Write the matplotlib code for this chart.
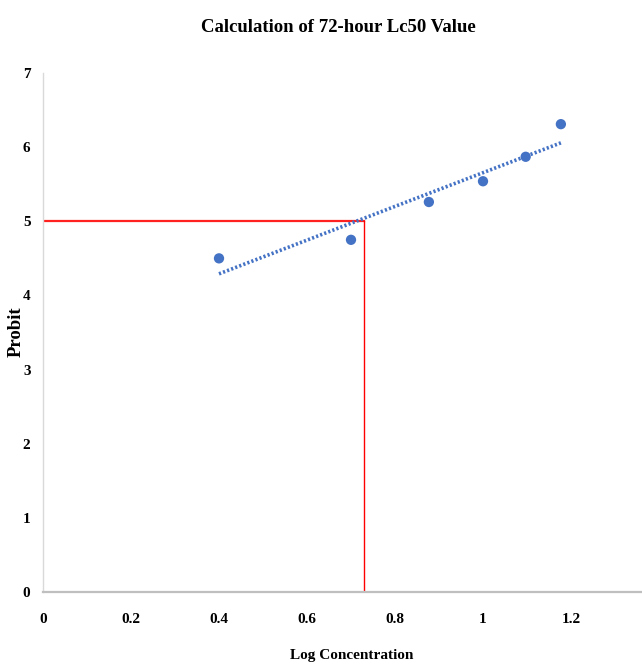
import numpy as np
import matplotlib
matplotlib.use("Agg")
import matplotlib.pyplot as plt

log_conc = [0.40, 0.70, 0.877, 1.00, 1.097, 1.177]
probit = [4.50, 4.75, 5.26, 5.54, 5.87, 6.31]
lc50_probit = 5.0
lc50_logconc = 0.73
x_ticks = [0, 0.2, 0.4, 0.6, 0.8, 1.0, 1.2]
x_tick_labels = ["0", "0.2", "0.4", "0.6", "0.8", "1", "1.2"]
y_ticks = [0, 1, 2, 3, 4, 5, 6, 7]

blue = "#4472C4"
serif = ["Liberation Serif", "DejaVu Serif"]

fig = plt.figure(figsize=(6.42, 6.64), dpi=100)
ax = fig.add_axes([43/642, 1-592/664, (642-43)/642, (592-73)/664])

# trendline
coef = np.polyfit(log_conc, probit, 1)
xs = np.array([min(log_conc), max(log_conc)])
ax.plot(xs, np.polyval(coef, xs), linestyle=(0, (0.6, 0.6)), color=blue, lw=2.6, zorder=2)

ax.scatter(log_conc, probit, s=55, color=blue, zorder=3, edgecolors="none")

# LC50 guide lines
ax.plot([0, lc50_logconc], [lc50_probit, lc50_probit], color="#ff2020", lw=1.6, zorder=1)
ax.plot([lc50_logconc, lc50_logconc], [0, lc50_probit], color="#ff0000", lw=1.0, zorder=1)

ax.set_xlim(0, (642-43)/440*0.2/0.2)
ax.set_ylim(0, 7)
ax.set_xticks(x_ticks)
ax.set_xticklabels(x_tick_labels)
ax.set_yticks(y_ticks)
ax.tick_params(length=0)
ax.tick_params(axis="x", pad=15)
ax.tick_params(axis="y", pad=9)
for lab in ax.get_xticklabels() + ax.get_yticklabels():
    lab.set_fontfamily(serif)
    lab.set_fontweight("bold")
    lab.set_fontsize(11)

for s in ["top", "right"]:
    ax.spines[s].set_visible(False)
ax.spines["left"].set_color("#d9d9d9")
ax.spines["left"].set_linewidth(1.0)
ax.spines["bottom"].set_color("#bfbfbf")
ax.spines["bottom"].set_linewidth(1.6)

fig.text(338/642, 1-27/664, "Calculation of 72-hour Lc50 Value", ha="center", va="center",
         fontfamily=serif, fontweight="bold", fontsize=13.5)
fig.text(352/642, 1-655/664, "Log Concentration", ha="center", va="center",
         fontfamily=serif, fontweight="bold", fontsize=11)
fig.text(16/642, 1-332/664, "Probit", ha="center", va="center", rotation=90,
         fontfamily=serif, fontweight="bold", fontsize=13.5)

fig.savefig("out.png", dpi=100)
